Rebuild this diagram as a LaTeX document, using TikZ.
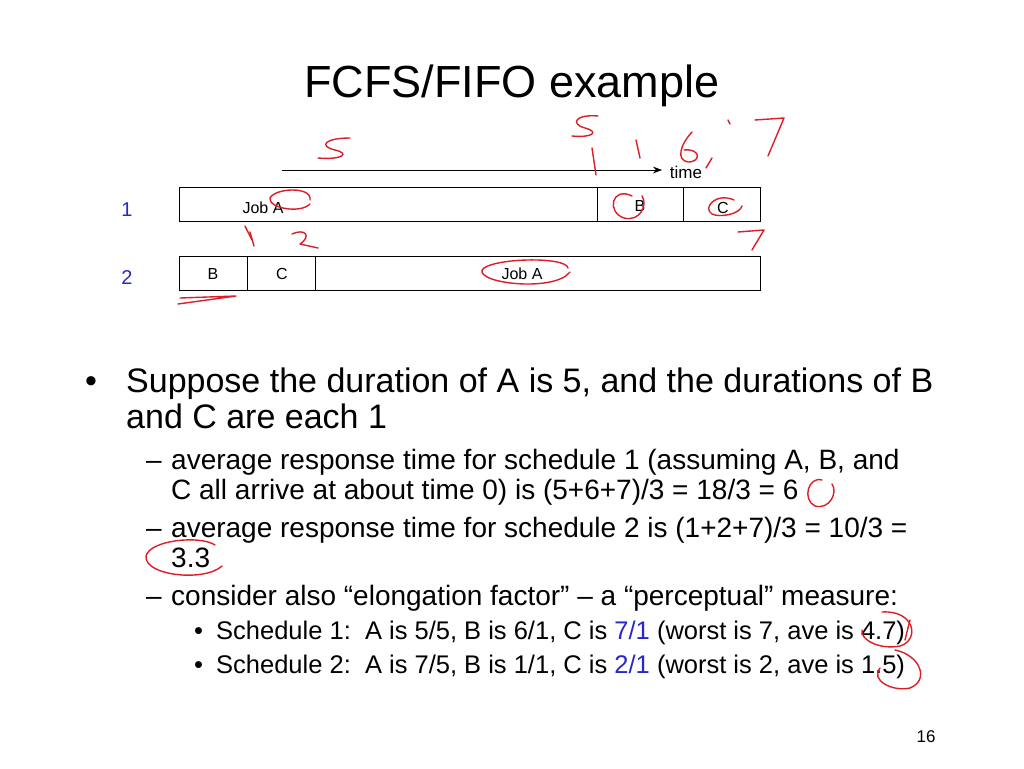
\documentclass[tikz,border=0pt]{standalone}
\usepackage{fontspec}
\setmainfont{Liberation Sans}
\usetikzlibrary{arrows.meta}
\definecolor{numblue}{RGB}{40,40,200}
\definecolor{ink}{RGB}{220,30,40}
\newcommand{\fs}[1]{\fontsize{#1}{#1}\selectfont}
\begin{document}
\begin{tikzpicture}[x=1pt,y=-1pt,
    every node/.style={inner sep=0pt,anchor=base west},
    slot/.style={draw=black,thick},
    pen/.style={draw=ink,line width=1.4pt,line cap=round,line join=round}]
  \useasboundingbox[fill=white] (0,0) rectangle (1024,768);
  % title and time axis
  \node(title)[anchor=base] at (512,97) {\fs{45}FCFS/FIFO example};
  \coordinate(t0) at (282,170);
  \coordinate(t1) at (662,170);
  \draw[thick,-{Stealth[length=9pt]}] (t0) -- (t1);
  \node(time)[anchor=base] at (686,178) {\fs{17}time};
  % schedule 1
  \node(n1)[anchor=base,text=numblue] at (127,216) {\fs{20}1};
  \draw[slot] (179,187) rectangle (760,221);
  \draw[slot] (597,187) -- (597,221);
  \draw[slot] (683,187) -- (683,221);
  \node(ja1)[anchor=base] at (263,213) {\fs{16}Job A};
  \node(b1)[anchor=base] at (640,211) {\fs{16}B};
  \node(c1)[anchor=base] at (723,213) {\fs{16}C};
  % schedule 2
  \node(n2)[anchor=base,text=numblue] at (127,284) {\fs{20}2};
  \draw[slot] (179,256) rectangle (760,290);
  \draw[slot] (247,256) -- (247,290);
  \draw[slot] (315,256) -- (315,290);
  \node(b2)[anchor=base] at (213,279) {\fs{16}B};
  \node(c2)[anchor=base] at (282,279) {\fs{16}C};
  \node(ja2)[anchor=base] at (522,279) {\fs{16}Job A};
  % bullets
  \node(d1) at (85,392) {\fs{34}•};
  \node(l1) at (126,392) {\fs{34}Suppose the duration of A is 5, and the durations of B};
  \node(l2) at (126,428) {\fs{34}and C are each 1};
  \node(d2) at (146,469) {\fs{28}–};
  \node(l3) at (171,469) {\fs{28}average response time for schedule 1 (assuming A, B, and};
  \node(l4) at (171,499) {\fs{28}C all arrive at about time 0) is (5+6+7)/3 = 18/3 = 6};
  \node(d3) at (146,537) {\fs{28}–};
  \node(l5) at (171,537) {\fs{28}average response time for schedule 2 is (1+2+7)/3 = 10/3 =};
  \node(l6) at (171,567) {\fs{28}3.3};
  \node(d4) at (146,605) {\fs{28}–};
  \node(l7) at (171,605) {\fs{28}consider also “elongation factor” – a “perceptual” measure:};
  \node(e1) at (194,639) {\fs{25.5}•};
  \node(l8) at (216,639) {\fs{25.5}Schedule 1:\ \ A is 5/5, B is 6/1, C is \textcolor{numblue}{7/1} (worst is 7, ave is 4.7)};
  \node(e2) at (194,673) {\fs{25.5}•};
  \node(l9) at (216,673) {\fs{25.5}Schedule 2:\ \ A is 7/5, B is 1/1, C is \textcolor{numblue}{2/1} (worst is 2, ave is 1.5)};
  \node(page)[anchor=base] at (926,742) {\fs{17}16};
  % handwritten marks
  \draw[pen] (350,138) .. controls (325,138) and (318,146) .. (335,150) .. controls (352,154) and (340,160) .. (318,158);
  \draw[pen] (598,116) .. controls (575,114) and (570,124) .. (585,128) .. controls (600,132) and (592,138) .. (572,136);
  \draw[pen] (592,148) -- (596,175);
  \draw[pen] (636,140) -- (640,158);
  \draw[pen] (692,132) .. controls (680,145) and (676,160) .. (688,162) .. controls (702,162) and (700,148) .. (684,150);
  \draw[pen] (712,158) -- (706,168);
  \draw[pen] (755,120) -- (784,118) -- (768,156);
  \draw[pen] (728,120) -- (730,124);
  \draw[pen] (310,200) .. controls (312,186) and (275,188) .. (270,198) .. controls (268,208) and (300,214) .. (310,204);
  \draw[pen] (632,196) .. controls (612,186) and (606,212) .. (624,218) .. controls (640,222) and (648,205) .. (642,196);
  \draw[pen] (734,200) .. controls (716,192) and (702,208) .. (712,214) .. controls (720,218) and (740,214) .. (742,206);
  \draw[pen] (738,232) -- (764,230) -- (752,250);
  \draw[pen] (245,226) -- (252,240);
  \draw[pen] (250,232) -- (254,246);
  \draw[pen] (292,234) .. controls (305,228) and (312,236) .. (300,244) -- (318,248);
  \draw[pen] (568,268) .. controls (566,256) and (490,258) .. (482,270) .. controls (478,284) and (555,292) .. (570,272);
  \draw[pen] (180,298) -- (236,296) -- (178,304);
  \draw[pen] (822,480) .. controls (808,476) and (802,500) .. (815,506) .. controls (830,510) and (838,492) .. (832,484);
  \draw[pen] (215,545) .. controls (200,535) and (150,540) .. (146,556) .. controls (144,576) and (205,582) .. (222,566);
  \draw[pen] (882,612) .. controls (915,610) and (920,640) .. (900,646) .. controls (880,650) and (860,640) .. (862,630);
  \draw[pen] (905,640) -- (910,620);
  \draw[pen] (895,650) .. controls (920,655) and (930,680) .. (910,688) .. controls (892,692) and (870,680) .. (880,668);
\end{tikzpicture}
\end{document}
